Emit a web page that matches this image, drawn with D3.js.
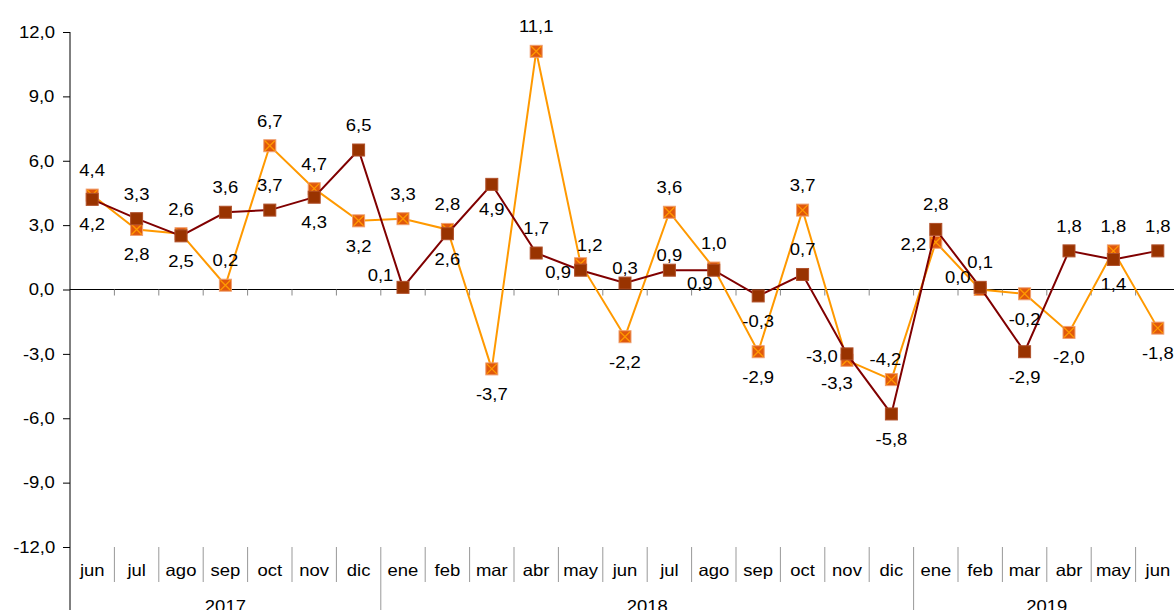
<!DOCTYPE html>
<html>
<head>
  <meta charset="utf-8" />
  <title>Variación mensual</title>
  <style>
    body { margin: 0; background: #ffffff; }
    svg { display: block; font-family: Arial, 'Liberation Sans', sans-serif; }
    svg text {
      transform-box: fill-box;
      transform-origin: center;
      transform: scaleX(1.12);
    }
  </style>
  <script src="https://cdnjs.cloudflare.com/ajax/libs/d3/7.8.5/d3.min.js"></script>
</head>
<body>
  <div id="chart"></div>
  <script>
    // months jun 2017 .. jun 2019
    var months = ["jun","jul","ago","sep","oct","nov","dic",
                  "ene","feb","mar","abr","may","jun","jul","ago","sep","oct","nov","dic",
                  "ene","feb","mar","abr","may","jun"];
    var years = [
      { label: "2017", from: 0, to: 7 },
      { label: "2018", from: 7, to: 19 },
      { label: "2019", from: 19, to: 25 }
    ];
    var orangeVals = [4.4, 2.8, 2.6, 0.2, 6.7, 4.7, 3.2,
                      3.3, 2.8, -3.7, 11.1, 1.2, -2.2, 3.6, 1.0, -2.9, 3.7, -3.3, -4.2,
                      2.2, 0.0, -0.2, -2.0, 1.8, -1.8];
    var redVals = [4.2, 3.3, 2.5, 3.6, 3.7, 4.3, 6.5,
                   0.1, 2.6, 4.9, 1.7, 0.9, 0.3, 0.9, 0.9, -0.3, 0.7, -3.0, -5.8,
                   2.8, 0.1, -2.9, 1.8, 1.4, 1.8];
    var yTicks = [-12, -9, -6, -3, 0, 3, 6, 9, 12];

    // where each value label sits (t above, b below, l left, mixes for the crowded ones)
    var orangePlace = ["t","b","t","t","t","t","b",
                       "t","t","b","t","tr","b","t","t","b","t","bl","tl",
                       "l","lt","b","b","t","b"];
    var redPlace = ["b","t","b","t","t","b","t",
                    "lt","b","b","t","l","t2","t2","bl2","b","t","l","b",
                    "t","t","b","t","b","t"];

    var W = 1174, H = 610;
    var plotL = 70, plotT = 32, plotB = 547, plotR = 1180;
    var FS = 16.5;

    var svg = d3.select("#chart").append("svg")
      .attr("width", W).attr("height", H);

    var x = d3.scaleBand().domain(d3.range(months.length)).range([plotL, plotR]);
    var y = d3.scaleLinear().domain([-12, 12]).range([plotB, plotT]);
    var fmt = function (v) { return d3.format(".1f")(v).replace(".", ",").replace("\u2212", "-"); };

    // y axis
    var yAxis = svg.append("g")
      .attr("transform", "translate(" + plotL + ",0)")
      .call(d3.axisLeft(y).tickValues(yTicks).tickSize(7).tickFormat(fmt));
    yAxis.select(".domain").remove();
    yAxis.selectAll(".tick line").attr("stroke", "#000");
    yAxis.selectAll(".tick text")
      .attr("x", -17).attr("font-size", FS + "px").attr("fill", "#000")
      .attr("font-family", "Arial, 'Liberation Sans', sans-serif");
    svg.append("line")
      .attr("x1", plotL).attr("x2", plotL).attr("y1", plotT).attr("y2", H)
      .attr("stroke", "#000").attr("stroke-width", 1);

    // zero line with small ticks at band edges
    svg.append("line")
      .attr("x1", plotL).attr("x2", W).attr("y1", y(0)).attr("y2", y(0))
      .attr("stroke", "#000").attr("stroke-width", 1);
    svg.append("g").selectAll("line")
      .data(d3.range(1, months.length))
      .enter().append("line")
      .attr("x1", function (i) { return x(i); })
      .attr("x2", function (i) { return x(i); })
      .attr("y1", y(0)).attr("y2", y(0) + 6)
      .attr("stroke", "#888");

    // category axis at the bottom
    svg.append("g").selectAll("line")
      .data(d3.range(1, months.length))
      .enter().append("line")
      .attr("x1", function (i) { return x(i); })
      .attr("x2", function (i) { return x(i); })
      .attr("y1", plotB)
      .attr("y2", function (i) {
        return years.some(function (yr) { return yr.from === i; }) ? H : plotB + 35;
      })
      .attr("stroke", "#999");
    svg.append("g").selectAll("text")
      .data(months)
      .enter().append("text")
      .attr("x", function (d, i) { return x(i) + x.bandwidth() / 2; })
      .attr("y", plotB + 29)
      .attr("text-anchor", "middle")
      .attr("font-size", FS + "px")
      .text(function (d) { return d; });
    svg.append("g").selectAll("text")
      .data(years)
      .enter().append("text")
      .attr("x", function (d) { return (x(d.from) + x(d.to - 1) + x.bandwidth()) / 2; })
      .attr("y", 612)
      .attr("text-anchor", "middle")
      .attr("font-size", FS + "px")
      .text(function (d) { return d.label; });

    var cx = function (d, i) { return x(i) + x.bandwidth() / 2; };
    var line = d3.line()
      .x(function (d, i) { return cx(d, i); })
      .y(function (d) { return y(d); });

    // [dx, dy of text centre, anchor]
    var offsets = {
      t:   [0, -25, "middle"],
      t2:  [0, -15, "middle"],
      b:   [0, 25, "middle"],
      l:   [-11, 2, "end"],
      lt:  [-11, -12, "end"],
      tl:  [-6, -21, "middle"],
      tr:  [9, -19, "middle"],
      bl:  [-10, 23, "middle"],
      bl2: [-14, 13, "middle"]
    };

    function drawLabels(vals, place) {
      svg.append("g").selectAll("text")
        .data(vals)
        .enter().append("text")
        .attr("x", function (d, i) { return cx(d, i) + offsets[place[i]][0]; })
        .attr("y", function (d, i) { return y(d) + offsets[place[i]][1] + 6; })
        .attr("text-anchor", function (d, i) { return offsets[place[i]][2]; })
        .attr("font-size", FS + "px")
        .attr("fill", "#000")
        .text(fmt);
    }

    // orange series
    svg.append("path").datum(orangeVals)
      .attr("d", line).attr("fill", "none")
      .attr("stroke", "#FF9900").attr("stroke-width", 2);
    var om = svg.append("g").selectAll("g")
      .data(orangeVals).enter().append("g")
      .attr("transform", function (d, i) { return "translate(" + cx(d, i) + "," + y(d) + ")"; });
    om.append("rect")
      .attr("x", -6).attr("y", -6).attr("width", 12).attr("height", 12)
      .attr("fill", "#E0580C").attr("stroke", "#F0A070").attr("stroke-width", 1);
    om.append("path")
      .attr("d", "M-5,-5L5,5M5,-5L-5,5")
      .attr("stroke", "#FF9900").attr("stroke-width", 1.3);

    // dark red series
    svg.append("path").datum(redVals)
      .attr("d", line).attr("fill", "none")
      .attr("stroke", "#800000").attr("stroke-width", 2);
    svg.append("g").selectAll("rect")
      .data(redVals).enter().append("rect")
      .attr("x", function (d, i) { return cx(d, i) - 6; })
      .attr("y", function (d) { return y(d) - 6; })
      .attr("width", 12).attr("height", 12)
      .attr("fill", "#993300").attr("stroke", "#B0502A").attr("stroke-width", 1);

    drawLabels(orangeVals, orangePlace);
    drawLabels(redVals, redPlace);
  </script>
</body>
</html>
